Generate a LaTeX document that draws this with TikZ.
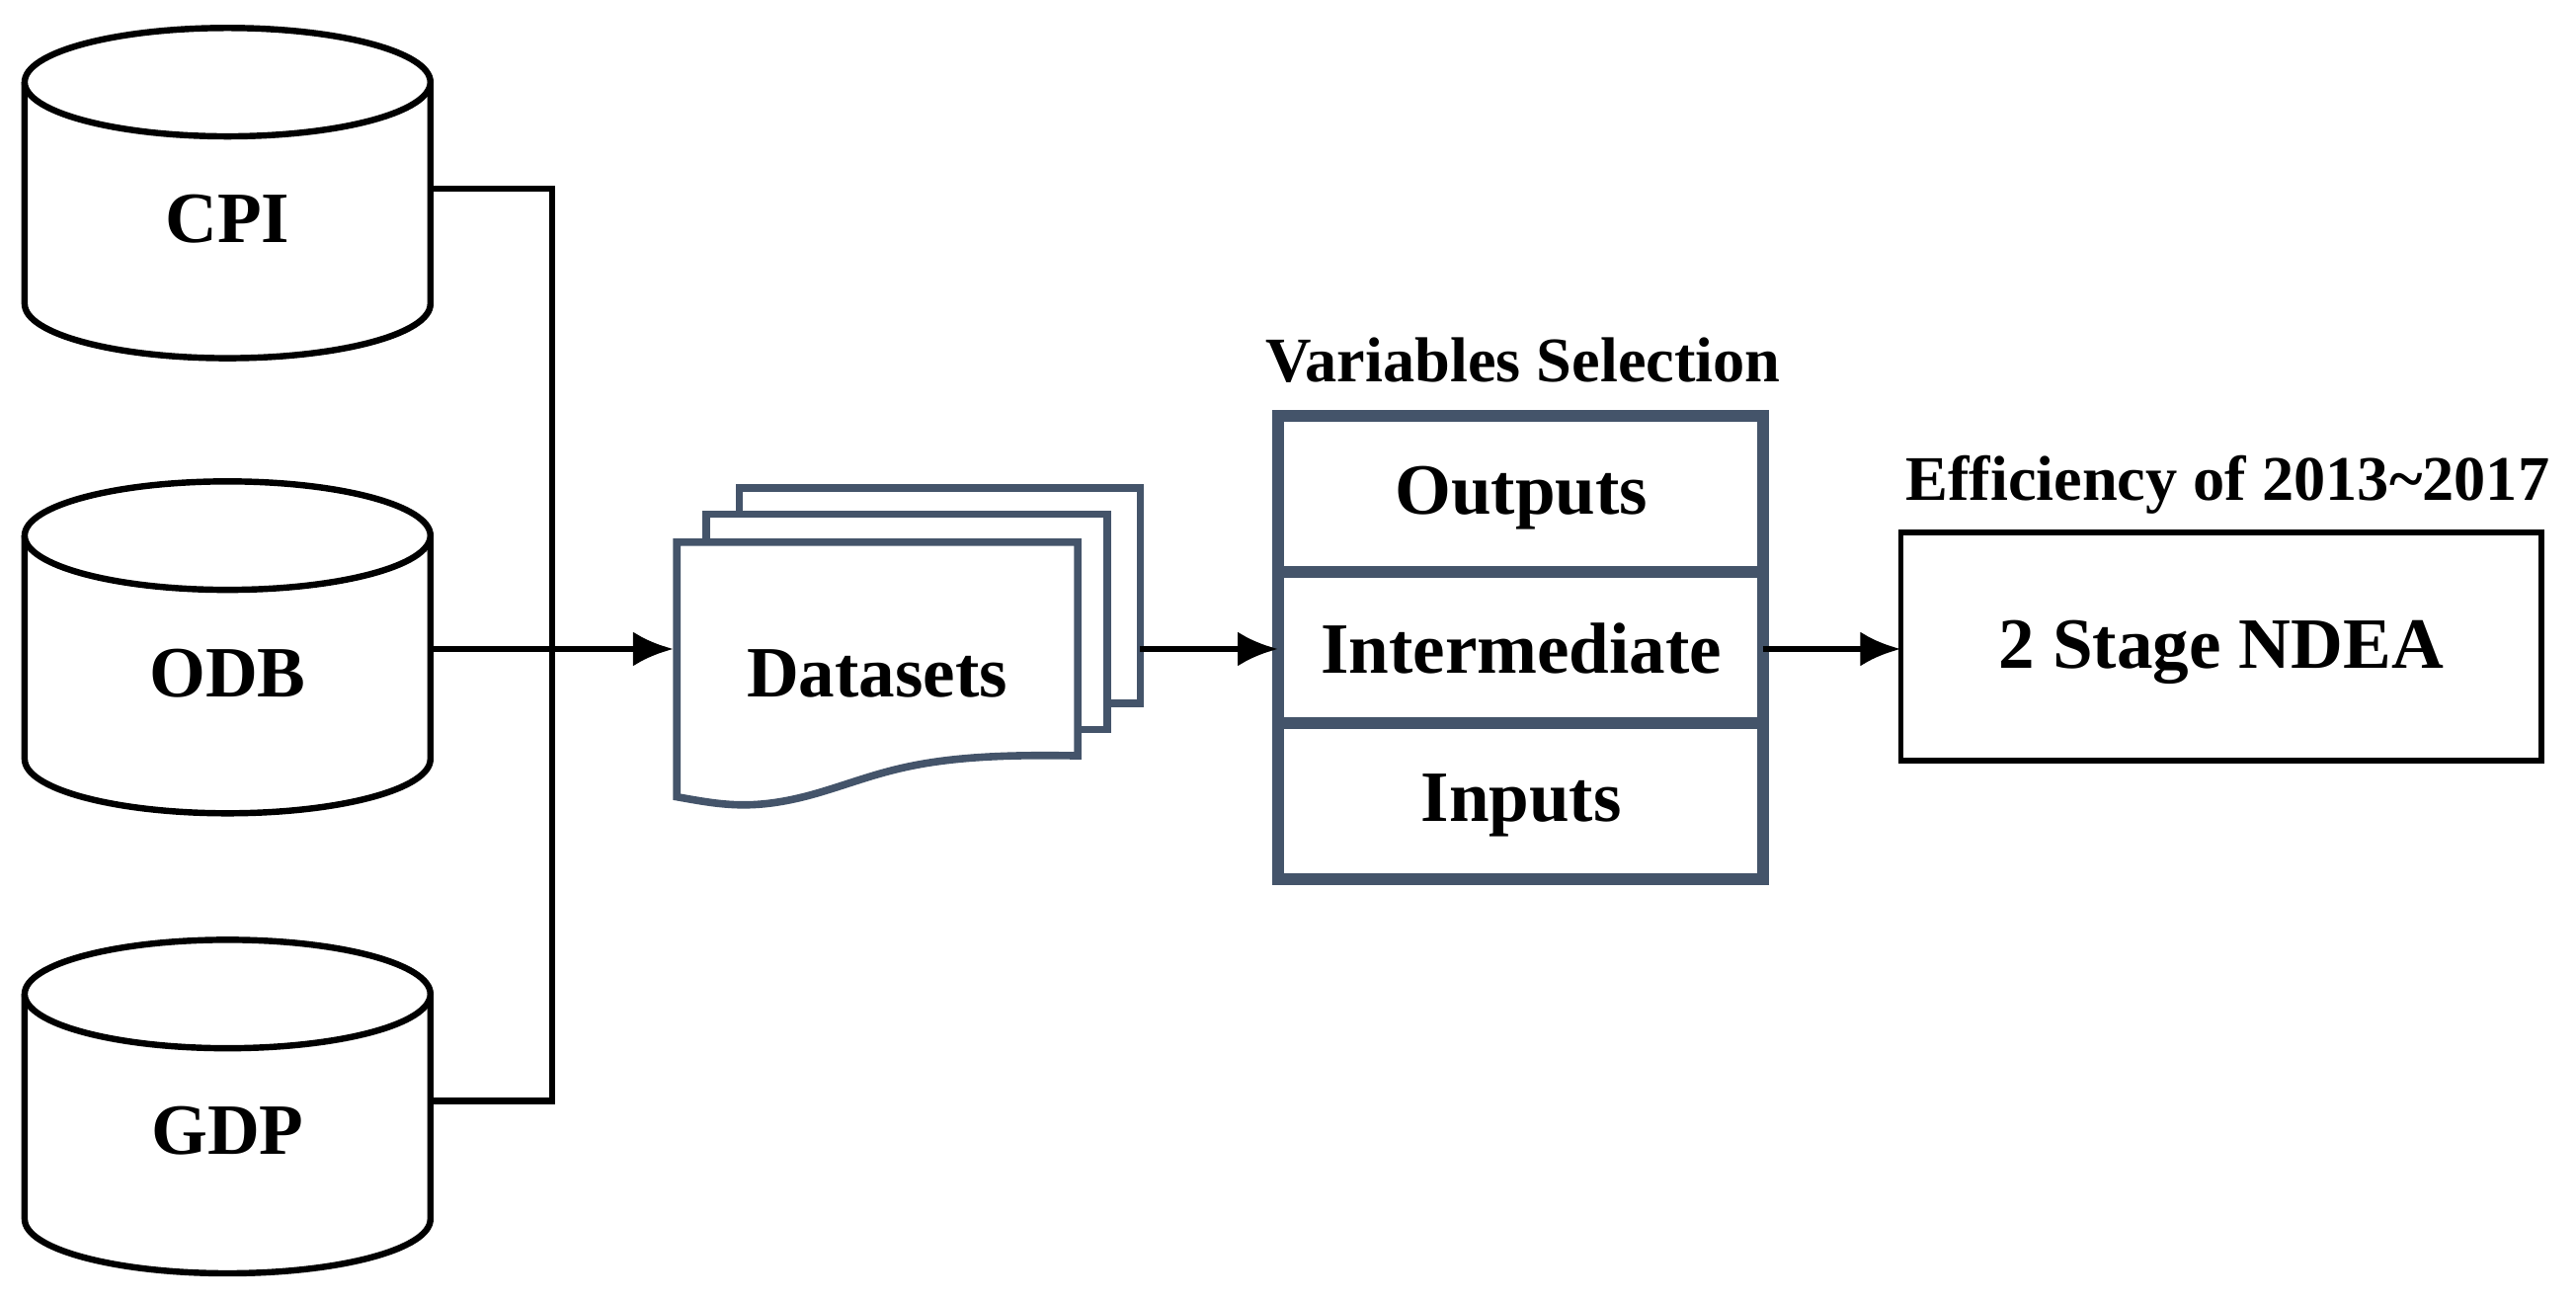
\documentclass[tikz,border=0pt]{standalone}
\usepackage{fontspec}
\setmainfont{Liberation Serif}
\usetikzlibrary{arrows.meta}
\definecolor{slate}{HTML}{44546A}
\begin{document}
\begin{tikzpicture}[x=0.01cm,y=-0.01cm,
  cyl/.style={draw=black,line width=1.1pt,fill=white},
  lbl/.style={font=\fontsize{12.5}{15}\selectfont\bfseries},
  ttl/.style={font=\fontsize{11}{13}\selectfont\bfseries},
  conn/.style={line width=1.1pt},
  arr/.style={line width=1.1pt,-{Latex[length=7pt,width=6pt]}},
  doc/.style={draw=slate,line width=1.3pt,fill=white}]
\useasboundingbox (0,0) rectangle (1568,791);
% cylinders
\foreach \n/\t/\yt/\yb/\ylab in {cpi/CPI/50/185/133, odb/ODB/326/462/410, gdp/GDP/605/742/688}{
  \draw[cyl] (15,\yt) -- (15,\yb) arc[start angle=180,end angle=0,x radius=123.5,y radius=33] -- (262,\yt);
  \draw[cyl] (138.5,\yt) ellipse[x radius=123.5,y radius=33];
  \node[lbl] (\n) at (138.5,\ylab) {\t};
}
\coordinate (cpiR) at (262,115);
\coordinate (odbR) at (262,395);
\coordinate (gdpR) at (262,670);
\coordinate (j) at (336,395);
% datasets
\draw[doc] (450,297) rectangle (694,428);
\draw[doc] (430,313) rectangle (674,444);
\draw[doc] (412,330) -- (656,330) -- (656,460) .. controls (560,458) and (540,470) .. (500,482) .. controls (460,494) and (440,490) .. (412,485) -- cycle;
\node[lbl] (ds) at (534,410) {Datasets};
\coordinate (dsL) at (410,395);
\coordinate (dsR) at (694,395);
% variables
\draw[draw=slate,line width=2pt] (778,253) rectangle (1073,535);
\draw[draw=slate,line width=2pt] (778,348) -- (1073,348) (778,440) -- (1073,440);
\node[lbl] (out) at (926,303) {Outputs};
\node[lbl] (mid) at (926,395) {Intermediate};
\node[lbl] (inp) at (926,490) {Inputs};
\node[ttl] (vs) at (927,219) {Variables Selection};
\coordinate (vL) at (778,395);
\coordinate (vR) at (1073,395);
% NDEA
\draw[line width=0.9pt] (1157,324) rectangle (1547,463);
\node[lbl] (ndt) at (1352,397) {2 Stage NDEA};
\node[ttl] (eff) at (1356,295) {Efficiency of 2013\textasciitilde2017};
\coordinate (nL) at (1157,395);
% connectors
\draw[conn] (cpiR) -| (j) |- (gdpR);
\draw[arr] (odbR) -- (dsL);
\draw[arr] (dsR) -- (vL);
\draw[arr] (vR) -- (nL);
\end{tikzpicture}
\end{document}
